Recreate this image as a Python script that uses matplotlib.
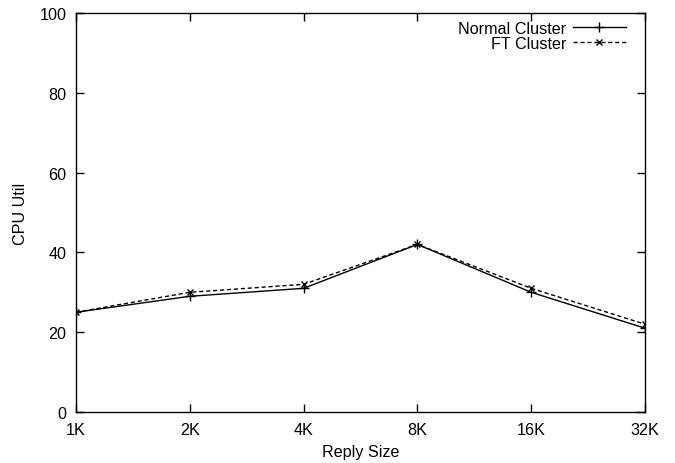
import matplotlib
matplotlib.use("Agg")
import matplotlib.pyplot as plt

categories = ["1K", "2K", "4K", "8K", "16K", "32K"]
normal = [25, 29, 31, 42, 30, 21]
ft = [25, 30, 32, 42, 31, 22]

plt.rcParams['font.family'] = ['Liberation Sans', 'DejaVu Sans']
fs = 11.6
fig = plt.figure(figsize=(6.75, 4.64), dpi=100)
ax = fig.add_axes([76/675, 1-413/464, (645-76)/675, (413-14)/464])
x = list(range(len(categories)))
ax.plot(x, normal, color='black', lw=1, marker='+', ms=7, mew=1, label='Normal Cluster')
ax.plot(x, ft, color='black', lw=1, ls=(0, (3, 2)), marker='x', ms=5, mew=1, label='FT Cluster')
ax.set_xlim(0, 5)
ax.set_ylim(0, 100)
ax.set_xticks(x)
ax.set_xticklabels(categories)
ax.set_yticks([0, 20, 40, 60, 80, 100])
ax.tick_params(direction='in', length=6, top=True, right=True, labelsize=fs, pad=7, width=1)
ax.set_xlabel('Reply Size', fontsize=fs, labelpad=5)
ax.set_ylabel('CPU Util', fontsize=fs, labelpad=8)
for s in ax.spines.values():
    s.set_linewidth(1)
leg = ax.legend(loc='upper right', bbox_to_anchor=(0.975, 0.993), frameon=False,
                markerfirst=False, fontsize=fs, handlelength=3.3, borderaxespad=0.0,
                borderpad=0.3, labelspacing=0.0, handletextpad=0.4)
fig.savefig('out.png', dpi=100)
